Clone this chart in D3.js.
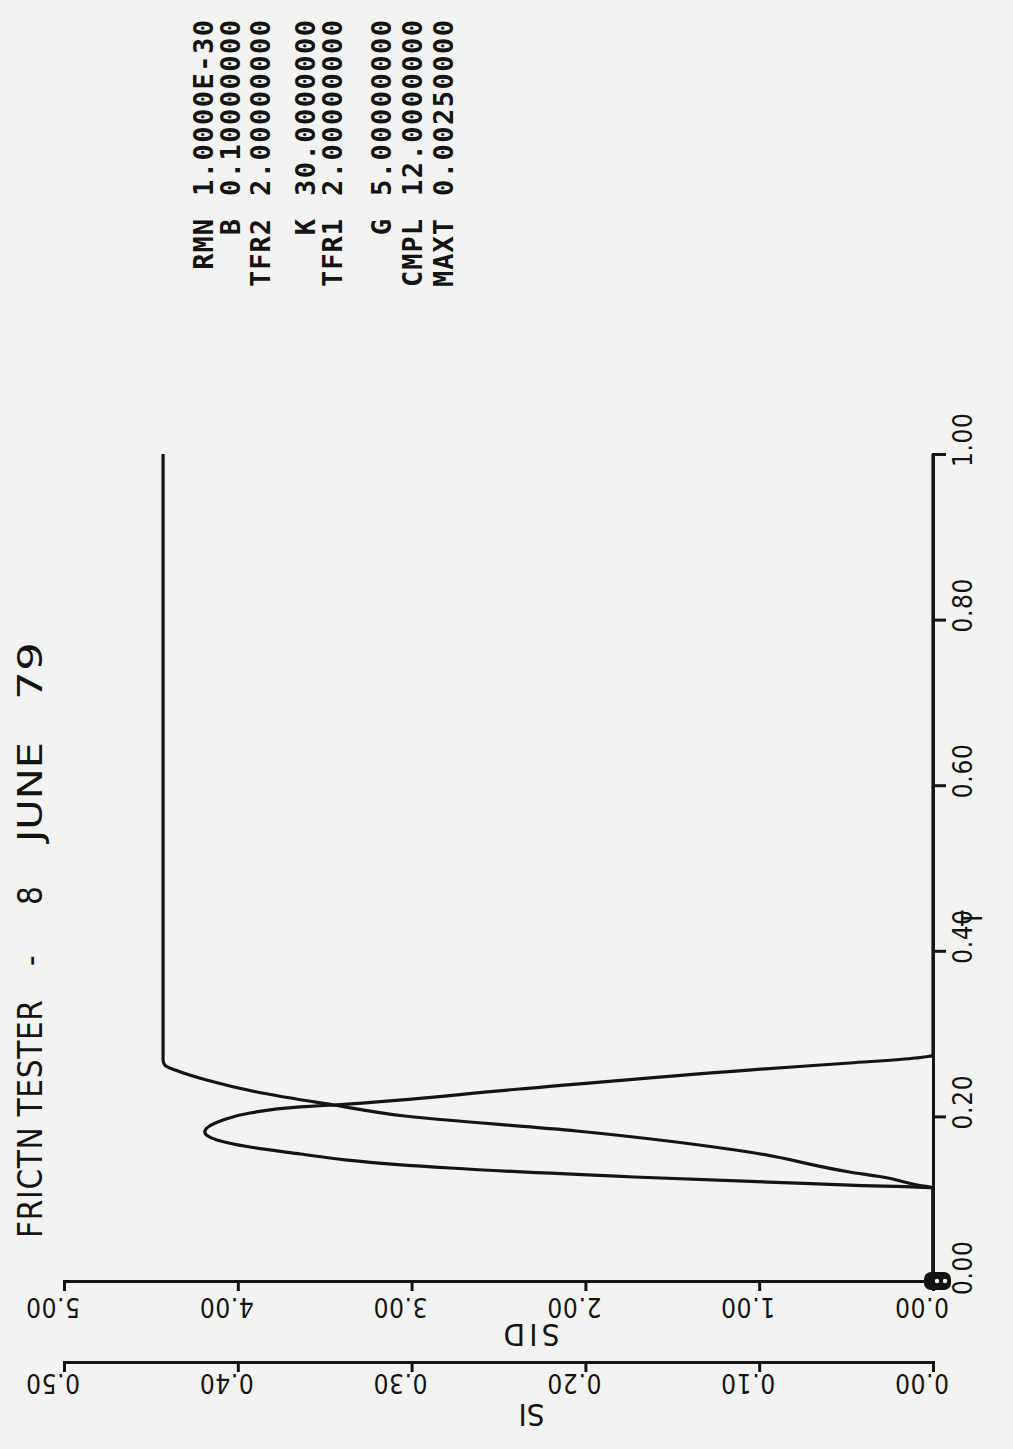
<!DOCTYPE html>
<html>
<head>
<meta charset="utf-8">
<script src="https://cdn.jsdelivr.net/npm/d3@7"></script>
<style>
  html, body { margin: 0; padding: 0; background: #f3f3f1; }
  svg { display: block; }
  .plot { font-family: "Liberation Sans Narrow", "DejaVu Sans Condensed", "Liberation Sans", sans-serif; fill: #141414; }
  .mono { font-family: "DejaVu Sans Mono", "Liberation Mono", monospace; }
</style>
</head>
<body>
<svg id="chart" width="1013" height="1449"></svg>
<script>
// Run header: text pieces with the start position and length of each along the left edge
const titleParts = ["FRICTN TESTER", "-", "8", "JUNE", "79"];
const titleStart = [1238, 966, 905, 842, 700];
const titleLen   = [238, null, null, 100, 58];

// Run parameters printed beside the plot
const paramNames  = ["RMN", "B", "TFR2", "K", "TFR1", "G", "CMPL", "MAXT"];
const paramValues = ["1.0000E-30", "0.10000000", "2.00000000", "30.0000000",
                     "2.00000000", "5.00000000", "12.0000000", "0.00250000"];

// Axis ticks
const tTicks   = [0, 0.2, 0.4, 0.6, 0.8, 1.0];
const tLabels  = ["0.00", "0.20", "0.40", "0.60", "0.80", "1.00"];
const sidTicks = [0, 1, 2, 3, 4, 5];
const sidLabels = ["0.00", "1.00", "2.00", "3.00", "4.00", "5.00"];
const siTicks  = [0, 0.1, 0.2, 0.3, 0.4, 0.5];
const siLabels = ["0.00", "0.10", "0.20", "0.30", "0.40", "0.50"];

// SID: rate pulse against time T
const sidT   = [0, 0.1135, 0.1171, 0.1268, 0.1377, 0.1473, 0.1546, 0.1630, 0.1715, 0.1812,
                0.1944, 0.2041, 0.2114, 0.2138, 0.2331, 0.2560, 0.2645, 0.2705, 0.2740, 1.0];
const sidVal = [0, 0, 0.48, 1.72, 2.78, 3.37, 3.64, 3.93, 4.12, 4.19,
                4.10, 3.93, 3.64, 3.45, 2.38, 1.06, 0.48, 0.10, 0, 0];

// SI: accumulated value against time T
const siT   = [0, 0.1135, 0.1171, 0.1268, 0.1329, 0.1570, 0.1824, 0.2005, 0.2138, 0.2295,
               0.2440, 0.2560, 0.2620, 0.2680, 1.0];
const siVal = [0, 0, 0.009, 0.029, 0.048, 0.106, 0.205, 0.304, 0.345, 0.389,
               0.418, 0.436, 0.442, 0.443, 0.443];

const svg = d3.select("#chart");
const g = svg.append("g").attr("class", "plot");
const ink = "#141414";

// Page is laid out sideways: T runs up the right edge, SID / SI run leftwards along the bottom
const x0 = 933, xEnd = 64;
const tScale   = d3.scaleLinear().domain([0, 1]).range([1282, 454]);
const sidScale = d3.scaleLinear().domain([0, 5]).range([x0, xEnd]);
const siScale  = d3.scaleLinear().domain([0, 0.5]).range([x0, xEnd]);
const sidAxisY = 1281, siAxisY = 1362;

function styleAxis(sel) {
  sel.selectAll("text").remove();
  sel.select(".domain").attr("stroke", ink).attr("stroke-width", 3).attr("fill", "none");
  sel.selectAll(".tick line").attr("stroke", ink).attr("stroke-width", 3);
}

// T axis
g.append("g")
  .attr("transform", `translate(${x0},0)`)
  .call(d3.axisRight(tScale).tickValues(tTicks).tickSize(13).tickSizeOuter(13).tickFormat(""))
  .call(styleAxis);

// SID axis
g.append("g")
  .attr("transform", `translate(0,${sidAxisY})`)
  .call(d3.axisBottom(sidScale).tickValues(sidTicks).tickSize(10).tickSizeOuter(10).tickFormat(""))
  .call(styleAxis);

// SI axis
g.append("g")
  .attr("transform", `translate(0,${siAxisY})`)
  .call(d3.axisBottom(siScale).tickValues(siTicks).tickSize(10).tickSizeOuter(10).tickFormat(""))
  .call(styleAxis);

const labelSize = 26, labelLen = 54;

// T tick labels, reading upward
g.selectAll("text.tlab").data(tTicks).join("text")
  .attr("class", "tlab")
  .attr("font-size", labelSize).attr("textLength", labelLen).attr("lengthAdjust", "spacing")
  .attr("transform", d => `translate(972,${tScale(d) + 13}) rotate(-90)`)
  .text((d, i) => tLabels[i]);

g.append("text").attr("font-size", 28)
  .attr("transform", `translate(982,${tScale(0.43)}) rotate(-90)`)
  .text("T");

// SID / SI tick labels, printed upside down
g.selectAll("text.sidlab").data(sidTicks).join("text")
  .attr("class", "sidlab")
  .attr("font-size", labelSize).attr("textLength", labelLen).attr("lengthAdjust", "spacing")
  .attr("transform", d => `translate(${sidScale(d) + 16},${sidAxisY + 17}) rotate(180)`)
  .text((d, i) => sidLabels[i]);

g.selectAll("text.silab").data(siTicks).join("text")
  .attr("class", "silab")
  .attr("font-size", labelSize).attr("textLength", labelLen).attr("lengthAdjust", "spacing")
  .attr("transform", d => `translate(${siScale(d) + 16},${siAxisY + 12}) rotate(180)`)
  .text((d, i) => siLabels[i]);

g.append("text").attr("font-size", 31).attr("textLength", 56).attr("lengthAdjust", "spacing")
  .attr("text-anchor", "middle")
  .attr("transform", `translate(${sidScale(2.31)},${sidAxisY + 43}) rotate(180)`)
  .text("SID");

g.append("text").attr("font-size", 31)
  .attr("text-anchor", "middle")
  .attr("transform", `translate(${siScale(0.231)},${siAxisY + 42}) rotate(180)`)
  .text("SI");

// Overprinted marker at the origin
g.append("rect").attr("x", 924).attr("y", 1272).attr("width", 27).attr("height", 18)
  .attr("rx", 7).attr("fill", ink);
g.selectAll("circle.hole").data([937, 945]).join("circle")
  .attr("class", "hole").attr("cx", d => d).attr("cy", 1281).attr("r", 2.2).attr("fill", "#f3f3f1");

// Curves
const line = d3.line().curve(d3.curveMonotoneY);
const sidPts = sidT.map((t, i) => [sidScale(sidVal[i]), tScale(t)]);
const siPts  = siT.map((t, i) => [siScale(siVal[i]), tScale(t)]);
[sidPts, siPts].forEach(p => {
  g.append("path").attr("d", line(p)).attr("fill", "none")
    .attr("stroke", ink).attr("stroke-width", 3.2).attr("stroke-linejoin", "round");
});

// Header, reading upward along the left edge
titleParts.forEach((txt, i) => {
  const t = g.append("text").attr("font-size", 33)
    .attr("transform", `translate(42,${titleStart[i]}) rotate(-90)`).text(txt);
  if (titleLen[i]) {
    t.attr("textLength", titleLen[i]).attr("lengthAdjust", i === 0 ? "spacing" : "spacingAndGlyphs");
  }
});

// Parameter listing
const paramX = [213, 240, 270, 315, 342, 391, 422, 453];
paramNames.forEach((name, i) => {
  g.append("text").attr("class", "mono").attr("font-size", 27).attr("font-weight", "bold")
    .attr("text-anchor", "end").attr("letter-spacing", 1)
    .attr("transform", `translate(${paramX[i]},218) rotate(-90)`).text(name);
  g.append("text").attr("class", "mono").attr("font-size", 27).attr("font-weight", "bold")
    .attr("textLength", 176).attr("lengthAdjust", "spacing")
    .attr("transform", `translate(${paramX[i]},196) rotate(-90)`).text(paramValues[i]);
});
</script>
</body>
</html>
